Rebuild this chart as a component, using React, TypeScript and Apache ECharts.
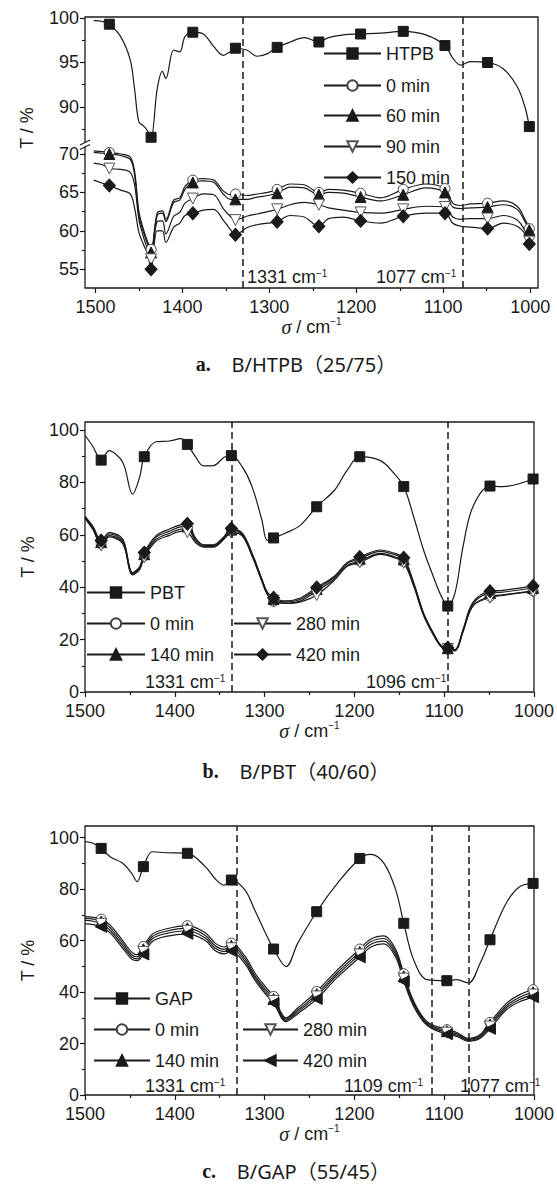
import React, { useEffect, useRef } from "react";
import * as echarts from "echarts";

const FONT = '"Liberation Sans Narrow","Arial Narrow","Liberation Sans",Arial,sans-serif';
const SERIF = '"Liberation Serif","DejaVu Serif",serif';
const CAPFONT = '"Noto Sans","Noto Sans CJK SC",sans-serif';
const INK = "#1a1a1a";

// ---------- panel a : B/HTPB(25/75) ----------
const aX = [1502, 1492, 1484, 1471, 1460, 1455, 1450, 1445, 1440, 1436, 1429, 1423, 1419, 1410, 1403, 1397, 1388, 1376, 1364, 1353, 1345, 1339, 1326, 1314, 1302, 1291, 1276, 1260, 1243, 1232, 1215, 1195, 1172, 1146, 1120, 1098, 1089, 1080, 1069, 1049, 1031, 1015, 1006, 1001];
const aHTPB = [99.7, 99.6, 99.3, 97.9, 95.3, 92.0, 88.3, 87.9, 87.3, 86.6, 92.0, 94.0, 93.2, 96.4, 96.2, 97.9, 98.4, 98.2, 96.8, 95.8, 96.2, 96.6, 96.4, 95.7, 96.0, 96.7, 97.3, 97.8, 97.3, 97.8, 98.1, 98.2, 98.3, 98.5, 98.1, 96.9, 95.5, 94.7, 95.1, 95.0, 94.3, 92.3, 90.0, 87.8];
const a0 = [70.4, 70.3, 70.2, 70.0, 69.6, 67.8, 62.5, 60.3, 58.6, 57.6, 62.3, 62.6, 61.5, 64.0, 64.3, 65.8, 66.6, 66.8, 66.6, 65.2, 64.7, 64.8, 64.6, 64.8, 65.0, 65.4, 66.1, 66.0, 65.0, 65.4, 65.3, 64.9, 64.3, 65.4, 66.1, 65.5, 63.6, 63.3, 63.5, 63.6, 63.9, 63.2, 61.5, 60.3];
const a60 = [70.2, 70.1, 70.0, 69.8, 69.3, 67.3, 62.0, 59.9, 58.3, 57.2, 62.0, 62.3, 61.2, 63.7, 64.0, 65.4, 66.3, 66.5, 66.3, 64.8, 64.1, 64.1, 64.1, 64.4, 64.6, 64.9, 65.7, 65.6, 64.7, 65.0, 64.9, 64.4, 63.9, 64.7, 65.6, 65.0, 63.1, 62.9, 63.0, 63.1, 63.4, 62.8, 61.2, 60.1];
const a90 = [68.8, 68.6, 68.1, 68.0, 67.6, 66.0, 61.5, 59.3, 57.6, 56.3, 61.2, 61.3, 59.6, 61.9, 62.4, 63.6, 64.2, 64.8, 64.7, 62.9, 61.9, 61.4, 61.9, 62.2, 62.5, 62.8, 63.4, 63.7, 63.4, 63.0, 62.7, 62.4, 62.3, 62.8, 63.2, 63.1, 61.8, 61.5, 61.6, 61.6, 62.0, 61.4, 60.0, 58.6];
const a150 = [66.6, 66.2, 65.9, 65.3, 64.8, 63.0, 59.8, 58.3, 57.0, 55.0, 60.0, 60.0, 58.5, 60.5, 61.0, 62.0, 62.3, 62.7, 62.8, 61.4, 60.2, 59.5, 60.4, 60.8, 61.0, 61.2, 62.0, 61.8, 60.6, 61.6, 61.8, 61.3, 61.0, 61.9, 62.3, 62.3, 61.0, 60.6, 60.5, 60.3, 61.0, 60.6, 59.6, 58.3];
const aMarkers = [1484, 1436, 1388, 1339, 1291, 1243, 1195, 1146, 1098, 1049, 1001];
const aPeaks = [1331, 1077];

// ---------- panel b : B/PBT(40/60) ----------
const bX = [1500, 1491, 1482, 1473, 1461, 1456, 1447, 1439, 1434, 1421, 1406, 1393, 1386, 1377, 1368, 1357, 1345, 1337, 1325, 1314, 1303, 1297, 1290, 1277, 1260, 1242, 1222, 1208, 1194, 1171, 1156, 1145, 1134, 1123, 1112, 1103, 1096, 1088, 1079, 1068, 1049, 1035, 1001];
const bPBT = [98.0, 93.6, 88.5, 92.1, 89.2, 86.0, 75.5, 82.2, 89.8, 95.5, 95.8, 96.7, 94.5, 89.8, 86.3, 86.4, 89.6, 90.2, 86.0, 78.4, 65.6, 57.9, 58.8, 60.6, 63.7, 70.7, 77.1, 84.7, 89.8, 88.3, 83.5, 78.4, 66.9, 54.2, 44.0, 36.4, 32.8, 37.7, 55.5, 70.7, 78.6, 78.4, 81.3];
const b0 = [66.5, 62.2, 56.6, 59.7, 58.2, 55.6, 45.0, 47.2, 52.0, 58.2, 60.6, 62.2, 62.3, 57.6, 55.6, 55.6, 58.7, 61.4, 60.0, 52.3, 42.5, 37.4, 34.6, 33.9, 34.8, 38.5, 43.2, 48.3, 50.0, 52.9, 51.7, 49.8, 40.8, 29.5, 21.9, 17.2, 16.5, 15.8, 23.2, 33.0, 36.5, 37.1, 38.6];
const b140 = [66.8, 62.7, 57.2, 60.3, 58.8, 56.2, 45.3, 47.6, 52.6, 59.0, 61.4, 63.1, 63.3, 58.3, 56.0, 56.0, 59.1, 62.0, 60.4, 52.7, 42.9, 37.9, 35.5, 34.4, 35.4, 39.3, 43.9, 49.0, 50.9, 53.7, 52.5, 50.6, 41.4, 29.9, 22.2, 17.4, 16.7, 16.0, 23.6, 33.6, 37.8, 38.1, 39.7];
const b280 = [66.3, 61.9, 56.0, 59.2, 57.7, 55.1, 44.7, 46.8, 51.4, 57.5, 59.8, 61.3, 61.0, 57.0, 55.3, 55.3, 58.4, 60.8, 59.6, 51.9, 42.2, 37.1, 34.9, 33.8, 34.4, 37.0, 42.8, 48.0, 49.5, 52.5, 51.3, 49.3, 40.5, 29.3, 21.8, 17.1, 16.4, 15.7, 23.0, 32.8, 36.0, 36.9, 38.3];
const b420 = [67.0, 63.1, 57.8, 60.8, 59.4, 56.8, 45.6, 47.9, 53.2, 59.6, 62.2, 63.9, 64.2, 58.8, 56.2, 56.2, 59.4, 62.4, 60.7, 53.0, 43.1, 38.1, 36.0, 34.8, 35.9, 39.9, 44.3, 49.4, 51.5, 54.2, 53.0, 51.2, 41.8, 30.2, 22.5, 17.6, 16.9, 16.2, 23.9, 34.2, 38.5, 38.8, 40.5];
const bMarkers = [1482, 1434, 1386, 1337, 1290, 1242, 1194, 1145, 1096, 1049, 1001];
const bPeaks = [1337, 1096];

// ---------- panel c : B/GAP(55/45) ----------
const cX = [1500, 1491, 1482, 1472, 1458, 1448, 1442, 1435, 1425, 1410, 1386, 1366, 1355, 1345, 1337, 1322, 1311, 1299, 1290, 1276, 1263, 1242, 1219, 1194, 1182, 1167, 1154, 1145, 1134, 1119, 1097, 1086, 1073, 1060, 1049, 1031, 1016, 1001];
const cGAP = [98.4, 97.8, 95.8, 92.6, 90.0, 86.1, 82.9, 88.7, 94.5, 94.1, 93.9, 88.7, 84.0, 81.5, 83.5, 79.7, 71.9, 62.9, 56.7, 49.9, 59.0, 71.2, 82.2, 91.9, 93.5, 90.0, 79.7, 66.7, 52.5, 44.8, 44.4, 44.8, 43.5, 51.2, 60.3, 74.5, 80.9, 82.2];
const c0 = [69.3, 69.0, 68.3, 66.0, 60.0, 55.5, 54.5, 57.7, 62.5, 64.5, 65.8, 63.0, 59.0, 57.5, 59.0, 54.0, 47.5, 42.0, 38.3, 30.0, 33.8, 40.2, 48.6, 56.7, 60.5, 61.8, 56.5, 47.1, 36.5, 28.5, 25.4, 24.3, 22.0, 23.5, 28.2, 35.5, 39.0, 40.9];
const c140 = [68.6, 68.3, 67.4, 65.0, 59.0, 54.5, 53.7, 56.6, 61.6, 63.6, 64.8, 62.0, 58.0, 56.6, 58.0, 53.0, 46.5, 41.0, 37.3, 29.5, 33.0, 39.2, 47.6, 55.6, 59.5, 60.8, 55.5, 46.1, 35.8, 28.0, 24.8, 23.8, 21.6, 23.0, 27.4, 34.6, 38.0, 39.9];
const c280 = [67.8, 67.5, 66.5, 64.0, 58.0, 53.6, 52.9, 55.6, 60.7, 62.7, 63.8, 61.0, 57.0, 55.7, 57.0, 52.0, 45.6, 40.1, 36.5, 29.0, 32.3, 38.3, 46.7, 54.6, 58.5, 59.8, 54.5, 45.2, 35.1, 27.5, 24.2, 23.3, 21.2, 22.5, 26.6, 33.8, 37.1, 39.0];
const c420 = [66.5, 66.2, 65.3, 63.0, 57.0, 52.8, 52.2, 54.6, 59.6, 61.6, 62.6, 60.0, 56.0, 54.8, 55.9, 51.0, 44.7, 39.2, 35.7, 28.5, 31.6, 37.3, 45.7, 53.5, 57.4, 58.7, 53.5, 44.2, 34.4, 27.0, 23.6, 22.8, 20.8, 22.0, 25.7, 33.0, 36.2, 38.0];
const cMarkers = [1482, 1435, 1386, 1337, 1290, 1242, 1194, 1145, 1097, 1049, 1001];
const cPeaks = [1331, 1114, 1073];

// ---------- ticks ----------
const xMajorTicks = [1500, 1400, 1300, 1200, 1100, 1000];
const xMinorTicks = [1450, 1350, 1250, 1150, 1050];
const aUpperMajor = [100, 95, 90];
const aUpperMinor = [97.5, 92.5, 87.5];
const aLowerMajor = [70, 65, 60, 55];
const aLowerMinor = [67.5, 62.5, 57.5];
const pctMajor = [0, 20, 40, 60, 80, 100];
const pctMinor = [10, 30, 50, 70, 90];

const SYM: Record<string, any> = {
  square: { symbol: "rect", size: 10, fill: INK, stroke: INK, rotate: 0 },
  circle: { symbol: "circle", size: 10, fill: "#fff", stroke: "#444", rotate: 0 },
  up: { symbol: "triangle", size: 11, fill: INK, stroke: INK, rotate: 0 },
  down: { symbol: "triangle", size: 11, fill: "#fff", stroke: "#555", rotate: 180 },
  diamond: { symbol: "diamond", size: [12, 13], fill: INK, stroke: INK, rotate: 0 },
  left: { symbol: "triangle", size: 11, fill: INK, stroke: INK, rotate: 90 },
};

function buildData(xs: number[], ys: number[], markers: number[]) {
  return xs.map((x, i) =>
    markers.indexOf(x) >= 0 ? { value: [x, ys[i]] } : { value: [x, ys[i]], symbol: "none" }
  );
}

function lineSeries(name: string, xs: number[], ys: number[], markers: number[], xi: number, yi: number, s: any, peaks?: number[]) {
  const ser: any = {
    type: "line",
    name,
    xAxisIndex: xi,
    yAxisIndex: yi,
    smooth: 0.35,
    data: buildData(xs, ys, markers),
    symbol: s.symbol,
    symbolSize: s.size,
    symbolRotate: s.rotate,
    showAllSymbol: true,
    lineStyle: { color: INK, width: 1.2 },
    itemStyle: { color: s.fill, borderColor: s.stroke, borderWidth: 1 },
    emphasis: { disabled: true },
    z: 3,
  };
  if (peaks) {
    ser.markLine = {
      symbol: "none",
      silent: true,
      label: { show: false },
      lineStyle: { type: [7, 4], color: INK, width: 1.5 },
      data: peaks.map((p) => ({ xAxis: p })),
    };
  }
  return ser;
}

const labelStyle = { fontFamily: FONT, fontSize: 18, color: INK };
const plain = (v: number) => String(v);

function xMajor(gridIndex: number, min: number, max: number, withName: boolean) {
  return {
    type: "value", gridIndex, min, max, inverse: true, position: "bottom",
    axisLine: { show: false }, splitLine: { show: false },
    axisTick: { show: true, length: 5, customValues: xMajorTicks, lineStyle: { color: INK, width: 1.2 } },
    axisLabel: { show: true, customValues: xMajorTicks, margin: 10, formatter: plain, ...labelStyle },
    name: withName ? "{i|σ} / cm{s|−1}" : "",
    nameLocation: "middle",
    nameGap: 27,
    nameTextStyle: {
      ...labelStyle,
      rich: {
        i: { fontFamily: SERIF, fontStyle: "italic", fontSize: 20, color: INK },
        s: { fontFamily: FONT, fontSize: 10, color: INK, verticalAlign: "top" },
      },
    },
  };
}
function xMinor(gridIndex: number, min: number, max: number) {
  return {
    type: "value", gridIndex, min, max, inverse: true, position: "bottom",
    axisLine: { show: false }, splitLine: { show: false },
    axisTick: { show: true, length: 3, customValues: xMinorTicks, lineStyle: { color: INK, width: 1.2 } },
    axisLabel: { show: false },
  };
}
function yMajor(gridIndex: number, min: number, max: number, ticks: number[], name: string) {
  return {
    type: "value", gridIndex, min, max, position: "left",
    axisLine: { show: false }, splitLine: { show: false },
    axisTick: { show: true, length: 5, customValues: ticks, lineStyle: { color: INK, width: 1.2 } },
    axisLabel: { show: true, customValues: ticks, margin: 6, formatter: plain, ...labelStyle },
    name, nameLocation: "middle", nameGap: 48,
    nameTextStyle: { ...labelStyle },
  };
}
function yMinor(gridIndex: number, min: number, max: number, ticks: number[]) {
  return {
    type: "value", gridIndex, min, max, position: "left",
    axisLine: { show: false }, splitLine: { show: false },
    axisTick: { show: true, length: 3, customValues: ticks, lineStyle: { color: INK, width: 1.2 } },
    axisLabel: { show: false },
  };
}

function legendItem(name: string, left: number, cy: number, width: number) {
  return {
    data: [name], left, top: cy - 6.5, itemWidth: width, itemHeight: 13,
    padding: 0, itemGap: 0, selectedMode: false,
    formatter: (n: string) => n.slice(2),
    textStyle: { ...labelStyle },
  };
}

function annot(text: string, x: number, y: number) {
  return {
    type: "text", x, y, z: 50,
    style: {
      text: `{n|${text} cm}{s|−1}`,
      align: "left", verticalAlign: "middle",
      rich: {
        n: { fontFamily: FONT, fontSize: 18, fill: INK },
        s: { fontFamily: FONT, fontSize: 10, fill: INK, verticalAlign: "top" },
      },
    },
  };
}
function caption(letter: string, text: string, y: number) {
  return {
    type: "text", x: 296, y, z: 50,
    style: {
      text: `{b|${letter}}{t|    ${text}}`,
      align: "center", verticalAlign: "middle",
      rich: {
        b: { fontFamily: SERIF, fontWeight: "bold", fontSize: 20, fill: INK },
        t: { fontFamily: CAPFONT, fontSize: 20, fill: INK },
      },
    },
  };
}

export default function App() {
  const ref = useRef<HTMLDivElement>(null);
  useEffect(() => {
    if (!ref.current) return;
    const chart = echarts.init(ref.current, undefined, { renderer: "svg" });
    const border = { show: true, borderColor: INK, borderWidth: 1.3, backgroundColor: "transparent" };
    const aMin = 991, aMax = 1512;
    const option: any = {
      animation: false,
      backgroundColor: "#fff",
      grid: [
        { left: 85, top: 17, width: 453, height: 128 },
        { left: 85, top: 145, width: 453, height: 143 },
        { left: 85, top: 422, width: 453, height: 270, ...border },
        { left: 85, top: 826, width: 453, height: 269, ...border },
        { left: 85, top: 17, width: 453, height: 271, ...border },
      ],
      xAxis: [
        { type: "value", gridIndex: 0, min: aMin, max: aMax, inverse: true, show: false },
        xMajor(1, aMin, aMax, true),
        xMinor(1, aMin, aMax),
        { type: "value", gridIndex: 4, min: 0, max: 1, show: false },
        xMajor(2, 1000, 1500, true),
        xMinor(2, 1000, 1500),
        xMajor(3, 1000, 1500, true),
        xMinor(3, 1000, 1500),
      ],
      yAxis: [
        yMajor(0, 85.73, 100.11, aUpperMajor, ""),
        yMinor(0, 85.73, 100.11, aUpperMinor),
        yMajor(1, 52.57, 71.17, aLowerMajor, ""),
        yMinor(1, 52.57, 71.17, aLowerMinor),
        { type: "value", gridIndex: 4, min: 0, max: 1, show: false },
        yMajor(2, 0, 103.05, pctMajor, "T / %"),
        yMinor(2, 0, 103.05, pctMinor),
        yMajor(3, 0, 104.5, pctMajor, "T / %"),
        yMinor(3, 0, 104.5, pctMinor),
      ],
      legend: [
        legendItem("a:HTPB", 323, 51, 57),
        legendItem("a:0 min", 323, 83, 57),
        legendItem("a:60 min", 323, 113, 57),
        legendItem("a:90 min", 323, 144, 57),
        legendItem("a:150 min", 323, 175, 57),
        legendItem("b:PBT", 86, 590, 58),
        legendItem("b:0 min", 86, 621, 58),
        legendItem("b:140 min", 86, 652, 58),
        legendItem("b:280 min", 233, 621, 57),
        legendItem("b:420 min", 233, 652, 57),
        legendItem("c:GAP", 93, 996, 56),
        legendItem("c:0 min", 93, 1027, 56),
        legendItem("c:140 min", 93, 1058, 56),
        legendItem("c:280 min", 242, 1027, 55),
        legendItem("c:420 min", 242, 1058, 55),
      ],
      series: [
        lineSeries("a:HTPB", aX, aHTPB, aMarkers, 0, 0, SYM.square, aPeaks),
        lineSeries("a:0 min", aX, a0, aMarkers, 1, 2, SYM.circle, aPeaks),
        lineSeries("a:60 min", aX, a60, aMarkers, 1, 2, SYM.up),
        lineSeries("a:90 min", aX, a90, aMarkers, 1, 2, SYM.down),
        lineSeries("a:150 min", aX, a150, aMarkers, 1, 2, SYM.diamond),
        lineSeries("b:PBT", bX, bPBT, bMarkers, 4, 5, SYM.square, bPeaks),
        lineSeries("b:0 min", bX, b0, bMarkers, 4, 5, SYM.circle),
        lineSeries("b:140 min", bX, b140, bMarkers, 4, 5, SYM.up),
        lineSeries("b:280 min", bX, b280, bMarkers, 4, 5, SYM.down),
        lineSeries("b:420 min", bX, b420, bMarkers, 4, 5, SYM.diamond),
        lineSeries("c:GAP", cX, cGAP, cMarkers, 6, 7, SYM.square, cPeaks),
        lineSeries("c:0 min", cX, c0, cMarkers, 6, 7, SYM.circle),
        lineSeries("c:140 min", cX, c140, cMarkers, 6, 7, SYM.up),
        lineSeries("c:280 min", cX, c280, cMarkers, 6, 7, SYM.down),
        lineSeries("c:420 min", cX, c420, cMarkers, 6, 7, SYM.left),
      ],
      graphic: [
        { type: "rect", shape: { x: 81, y: 142.5, width: 9, height: 4 }, style: { fill: "#fff" }, z: 100 },
        { type: "line", shape: { x1: 80, y1: 145, x2: 90, y2: 140 }, style: { stroke: INK, lineWidth: 1.2 }, z: 101 },
        { type: "line", shape: { x1: 80, y1: 149.5, x2: 90, y2: 144.5 }, style: { stroke: INK, lineWidth: 1.2 }, z: 101 },
        {
          type: "text", x: 27, y: 128, rotation: Math.PI / 2, z: 50,
          style: { text: "T / %", fontFamily: FONT, fontSize: 18, fill: INK, align: "center", verticalAlign: "middle" },
        },
        annot("1331", 247, 277),
        annot("1077", 376, 277),
        annot("1331", 145, 682),
        annot("1096", 366, 682),
        annot("1331", 145, 1086),
        annot("1109", 344, 1086),
        annot("1077", 460, 1086),
        caption("a.", "B/HTPB（25/75）", 364),
        caption("b.", "B/PBT（40/60）", 771),
        caption("c.", "B/GAP（55/45）", 1171),
      ],
    };
    chart.setOption(option);
    return () => chart.dispose();
  }, []);
  return (
    <div
      ref={ref}
      style={{ position: "absolute", left: 0, top: 0, width: 557, height: 1185, background: "#fff" }}
    />
  );
}
